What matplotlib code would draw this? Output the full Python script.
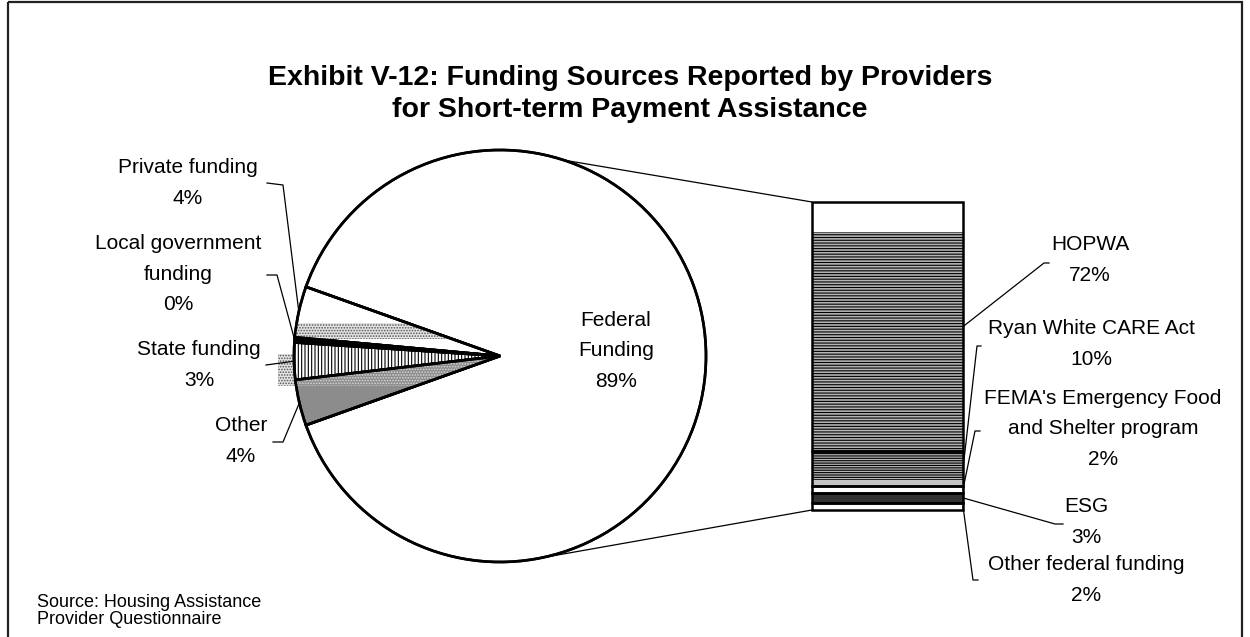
import matplotlib
matplotlib.use("Agg")
import matplotlib.pyplot as plt
import numpy as np
from matplotlib.patches import Rectangle, Wedge, ConnectionPatch

plt.rcParams['font.family'] = ['Liberation Sans', 'DejaVu Sans']
plt.rcParams['hatch.linewidth'] = 0.8

# Pie: every funding source, as a share of providers
pie_labels = ["Federal\nFunding", "Private funding", "Local government\nfunding", "State funding", "Other"]
pie_shares = [0.891, 0.040, 0.004, 0.029, 0.036]

# Bar: the federal sources, bottom to top
bar_labels = ["Other federal funding", "ESG", "FEMA's Emergency Food\nand Shelter program",
              "Ryan White CARE Act", "HOPWA"]
bar_shares = [0.02, 0.03, 0.02, 0.10, 0.72]

title = "Exhibit V-12: Funding Sources Reported by Providers\nfor Short-term Payment Assistance"
source = "Source: Housing Assistance\nProvider Questionnaire"

W, H = 1250, 637
fig = plt.figure(figsize=(W / 100, H / 100), dpi=100)


def px(ax, x, y):
    # data point of an axes -> pixel position (origin top-left)
    dx, dy = ax.transData.transform((x, y))
    return dx, H - dy


# ---- pie ----
cx, cy, r = 500, 356, 206
pad = 1.1
pie_ax = fig.add_axes([(cx - r * pad) / W, (H - cy - r * pad) / H, 2 * r * pad / W, 2 * r * pad / H])
start = -pie_shares[0] * 360 / 2
wedges, _ = pie_ax.pie(pie_shares, startangle=start, counterclock=True,
                       colors=['white', 'white', 'black', 'white', '#8c8c8c'],
                       wedgeprops=dict(edgecolor='black', linewidth=1.9))
wedges[3].set_hatch('|||||')
pie_ax.set_xlim(-pad, pad)
pie_ax.set_ylim(-pad, pad)

# stipple bands of the pattern fills
band = Rectangle((-1.0, 0.083), 1.0, 0.075, facecolor='#e4e4e4', edgecolor='#555555',
                 hatch='......', lw=0, zorder=2)
pie_ax.add_patch(band)
band.set_clip_path(wedges[1])
leak = Rectangle((-1.078, -0.146), 1.078, 0.156, facecolor='#e4e4e4', edgecolor='#555555',
                 hatch='......', lw=0, zorder=0, clip_on=False)
pie_ax.add_patch(leak)
band2 = Rectangle((-1.078, -0.146), 1.078, 0.156, facecolor='#8c8c8c', edgecolor='#d8d8d8',
                  hatch='......', lw=0, zorder=2)
pie_ax.add_patch(band2)
band2.set_clip_path(wedges[4])

for w in wedges:
    pie_ax.add_patch(Wedge(w.center, w.r, w.theta1, w.theta2, fill=False,
                           edgecolor='black', lw=1.9, zorder=5))

mid_angles = [np.deg2rad((w.theta1 + w.theta2) / 2) for w in wedges]

# ---- bar of federal sources ----
bx0, bx1, by0, by1 = 812, 963, 202, 510
bar_ax = fig.add_axes([bx0 / W, (H - by1) / H, (bx1 - bx0) / W, (by1 - by0) / H])
total = sum(bar_shares)
bottoms = np.cumsum([0] + bar_shares[:-1])
bar_ax.bar(0.5, bar_shares, width=1, bottom=bottoms,
           color=['white', '#333333', 'white', '#b4b4b4', 'white'], lw=0, clip_on=False)
# HOPWA hatch only fills the lower part of its block
bar_ax.bar(0.5, bar_shares[4] * 0.88, width=1, bottom=bottoms[4], facecolor='#b4b4b4',
           edgecolor='black', hatch='------', lw=0)
bar_ax.bar(0.5, bar_shares[3], width=1, bottom=bottoms[3], facecolor='#b4b4b4',
           edgecolor='black', hatch='-------', lw=0)
bar_ax.bar(0.5, bar_shares[3] * 0.18, width=1, bottom=bottoms[3], facecolor='#c4c4c4', lw=0)
bar_ax.bar(0.5, bar_shares, width=1, bottom=bottoms, fill=False, edgecolor='black',
           lw=1.8, clip_on=False, zorder=4)
bar_ax.set_xlim(0, 1)
bar_ax.set_ylim(0, total)
bar_ax.axis('off')

# lines joining the federal slice to the bar
for ang, yb in [(72, total), (-79.5, 0)]:
    a = np.deg2rad(ang)
    con = ConnectionPatch(xyA=(np.cos(a), np.sin(a)), coordsA=pie_ax.transData,
                          xyB=(0, yb), coordsB=bar_ax.transData, color='black', lw=0.9)
    fig.add_artist(con)

# ---- overlay for text and leader lines ----
ov = fig.add_axes([0, 0, 1, 1], zorder=10)
ov.set_xlim(0, W)
ov.set_ylim(H, 0)
ov.axis('off')
ov.patch.set_visible(False)

ov.add_patch(Rectangle((8, 2), W - 16, 700, fill=False, edgecolor='#222222', lw=1.6))

ov.text(630, 94, title, ha='center', va='center', fontsize=20.5, fontweight='bold', linespacing=1.3)
ov.text(37, 611, source, ha='left', va='center', fontsize=13, linespacing=1.05)

fmt = lambda lab, v: f"{lab}\n{v:.0%}"
lab_kw = dict(ha='center', va='center', fontsize=15, linespacing=1.75)

ov.text(616, 351, fmt(pie_labels[0], pie_shares[0]), **lab_kw)

pie_text = [(188, 183), (178, 274), (199, 365), (241, 441)]
pie_leads = [[(267, 183), (283, 185)], [(267, 275), (277, 275)], [(266, 365)], [(273, 442), (283, 442)]]
for i in range(1, 5):
    ov.text(*pie_text[i - 1], fmt(pie_labels[i], pie_shares[i]), **lab_kw)
    a = mid_angles[i]
    pts = pie_leads[i - 1] + [px(pie_ax, np.cos(a), np.sin(a))]
    ov.plot(*zip(*pts), color='black', lw=0.9)

bar_text = [(1086, 580), (1086, 522), (1103, 429), (1091, 344), (1090, 260)]
bar_leads = [[(978, 580), (973, 580)], [(1063, 524), (1055, 524)], [(980, 431), (975, 431)],
             [(981, 346), (977, 346)], [(1049, 263), (1044, 263)]]
for i in range(5):
    ov.text(*bar_text[i], fmt(bar_labels[i], bar_shares[i]), **lab_kw)
    pts = bar_leads[i] + [px(bar_ax, 1.0, bottoms[i] + bar_shares[i] / 2)]
    ov.plot(*zip(*pts), color='black', lw=0.9)

fig.savefig('out.png', dpi=100, facecolor='white')
